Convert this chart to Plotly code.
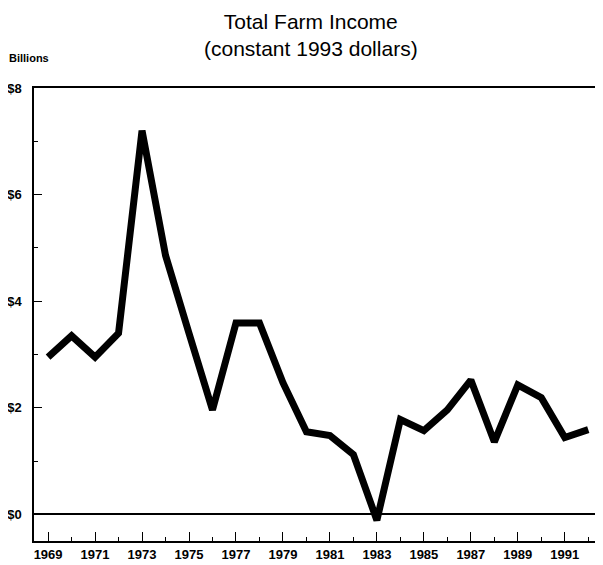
import plotly.graph_objects as go

years = list(range(1969, 1993))
income = [2.95, 3.35, 2.95, 3.40, 7.20, 4.86, 3.40, 1.96, 3.59, 3.59, 2.47, 1.55,
          1.48, 1.12, -0.11, 1.78, 1.57, 1.96, 2.52, 1.36, 2.43, 2.19, 1.44, 1.59]
y_ticks = [0, 2, 4, 6, 8]
y_labels = ["$0", "$2", "$4", "$6", "$8"]
x_ticks = list(range(1969, 1993, 2))

FONT = "Liberation Sans"

fig = go.Figure()
fig.add_trace(go.Scatter(x=years, y=income, mode="lines",
                         line=dict(color="black", width=7, shape="linear"),
                         hoverinfo="skip", showlegend=False))

fig.update_layout(
    width=603, height=565,
    margin=dict(l=26, r=11, t=80, b=32),
    paper_bgcolor="white", plot_bgcolor="white",
    font=dict(family=FONT, color="black"),
    showlegend=False,
    xaxis=dict(range=[1968.4, 1992.5], tickvals=x_ticks, ticktext=[str(v) for v in x_ticks],
               ticks="inside", ticklen=9, tickwidth=1.2, tickcolor="black",
               minor=dict(ticks="inside", dtick=1, tick0=1969, ticklen=4, tickcolor="black", tickwidth=1),
               showgrid=False, zeroline=False, showline=True, linecolor="black", linewidth=1.5,
               mirror=True, ticklabelstandoff=1, automargin=False,
               tickfont=dict(size=13, family=FONT, weight="bold"), fixedrange=True),
    yaxis=dict(range=[-0.5, 8], tickvals=y_ticks, ticktext=y_labels,
               ticks="inside", ticklen=8, tickwidth=1.2, tickcolor="black",
               minor=dict(ticks="inside", dtick=1, tick0=0, ticklen=4, tickcolor="black", tickwidth=1),
               showgrid=False, zeroline=True, zerolinecolor="black", zerolinewidth=1.5,
               showline=True, linecolor="black", linewidth=1.5, mirror=True,
               ticklabelstandoff=8, automargin=False,
               tickfont=dict(size=13, family=FONT, weight="bold"), fixedrange=True),
    annotations=[
        dict(text="Total Farm Income<br>(constant 1993 dollars)", xref="paper", yref="paper",
             x=0.49, y=1.0, yshift=80, xanchor="center", yanchor="top", showarrow=False,
             font=dict(size=21, family=FONT), align="center"),
        dict(text="Billions", xref="paper", yref="paper", x=0, xshift=-27, y=1.0, yshift=22,
             xanchor="left", yanchor="bottom", showarrow=False,
             font=dict(size=11, family=FONT, weight="bold")),
    ],
)

fig.write_html("out.html")
